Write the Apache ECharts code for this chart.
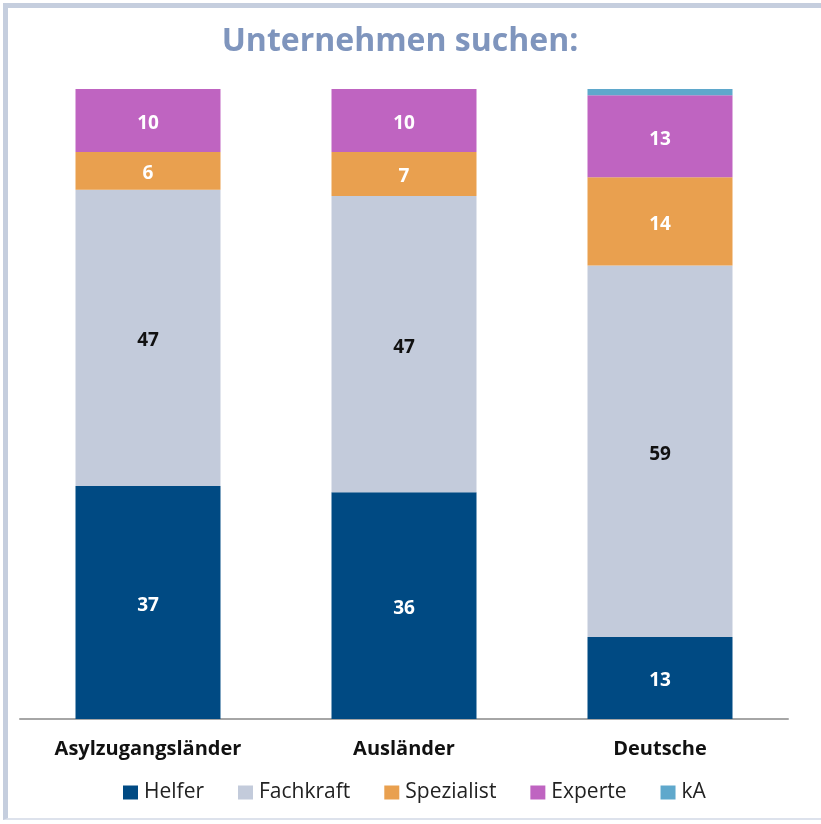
<!DOCTYPE html>
<html>
<head>
<meta charset="utf-8">
<script src="https://cdn.jsdelivr.net/npm/echarts@6/dist/echarts.min.js"></script>
<style>
  html, body { margin: 0; padding: 0; background: #fff; }
  #frame {
    position: absolute; left: 3px; top: 3px; width: 830px; height: 817px;
    border-left: 5px solid #c5cede; border-top: 5px solid #c5cede;
    border-bottom: 2px solid #dde2ec; box-sizing: border-box;
  }
  #chart { position: absolute; left: 0; top: 0; width: 821px; height: 824px; }
</style>
</head>
<body>
<div id="frame"></div>
<div id="chart"></div>
<script>
// Kategorien und Werte (Prozent)
const categories = ["Asylzugangsländer", "Ausländer", "Deutsche"];
const helfer = [37, 36, 13];
const fachkraft = [47, 47, 59];
const spezialist = [6, 7, 14];
const experte = [10, 10, 13];
const ka = [0, 0, 1];

const font = "'Open Sans', 'Noto Sans', sans-serif";

const makeSeries = (name, data, color, labelColor) => ({
  name,
  type: "bar",
  stack: "total",
  data,
  barWidth: 145,
  itemStyle: { color },
  label: {
    show: true,
    color: labelColor,
    fontWeight: "bold",
    fontSize: 19,
    fontFamily: font,
    offset: [0, 3],
    formatter: (p) => (p.value >= 2 ? p.value : ""),
  },
});

const chart = echarts.init(document.getElementById("chart"));
chart.setOption({
  animation: false,
  title: {
    text: "Unternehmen suchen:",
    left: 395,
    textAlign: "center",
    top: 21,
    textStyle: { color: "#7f95bd", fontSize: 32, fontWeight: "bold", fontFamily: font },
  },
  legend: {
    bottom: 16,
    left: 118,
    itemWidth: 15,
    itemHeight: 14,
    itemGap: 34,
    icon: "rect",
    textStyle: { color: "#222", fontSize: 21, fontFamily: font, padding: [0, 0, 0, 1] },
    data: ["Helfer", "Fachkraft", "Spezialist", "Experte", "kA"],
  },
  grid: { left: 20, right: 33, top: 89, bottom: 105 },
  xAxis: {
    type: "category",
    data: categories,
    axisTick: { show: false },
    axisLine: { lineStyle: { color: "#a6a6a6", width: 2 } },
    axisLabel: {
      color: "#111",
      fontWeight: "bold",
      fontSize: 20,
      fontFamily: font,
      margin: 20,
    },
  },
  yAxis: { type: "value", min: 0, max: 100, show: false },
  series: [
    makeSeries("Helfer", helfer, "#004a83", "#fff"),
    makeSeries("Fachkraft", fachkraft, "#c3cbdb", "#111"),
    makeSeries("Spezialist", spezialist, "#e9a04f", "#fff"),
    makeSeries("Experte", experte, "#bf64c1", "#fff"),
    makeSeries("kA", ka, "#5fa8cc", "#fff"),
  ],
});
</script>
</body>
</html>
